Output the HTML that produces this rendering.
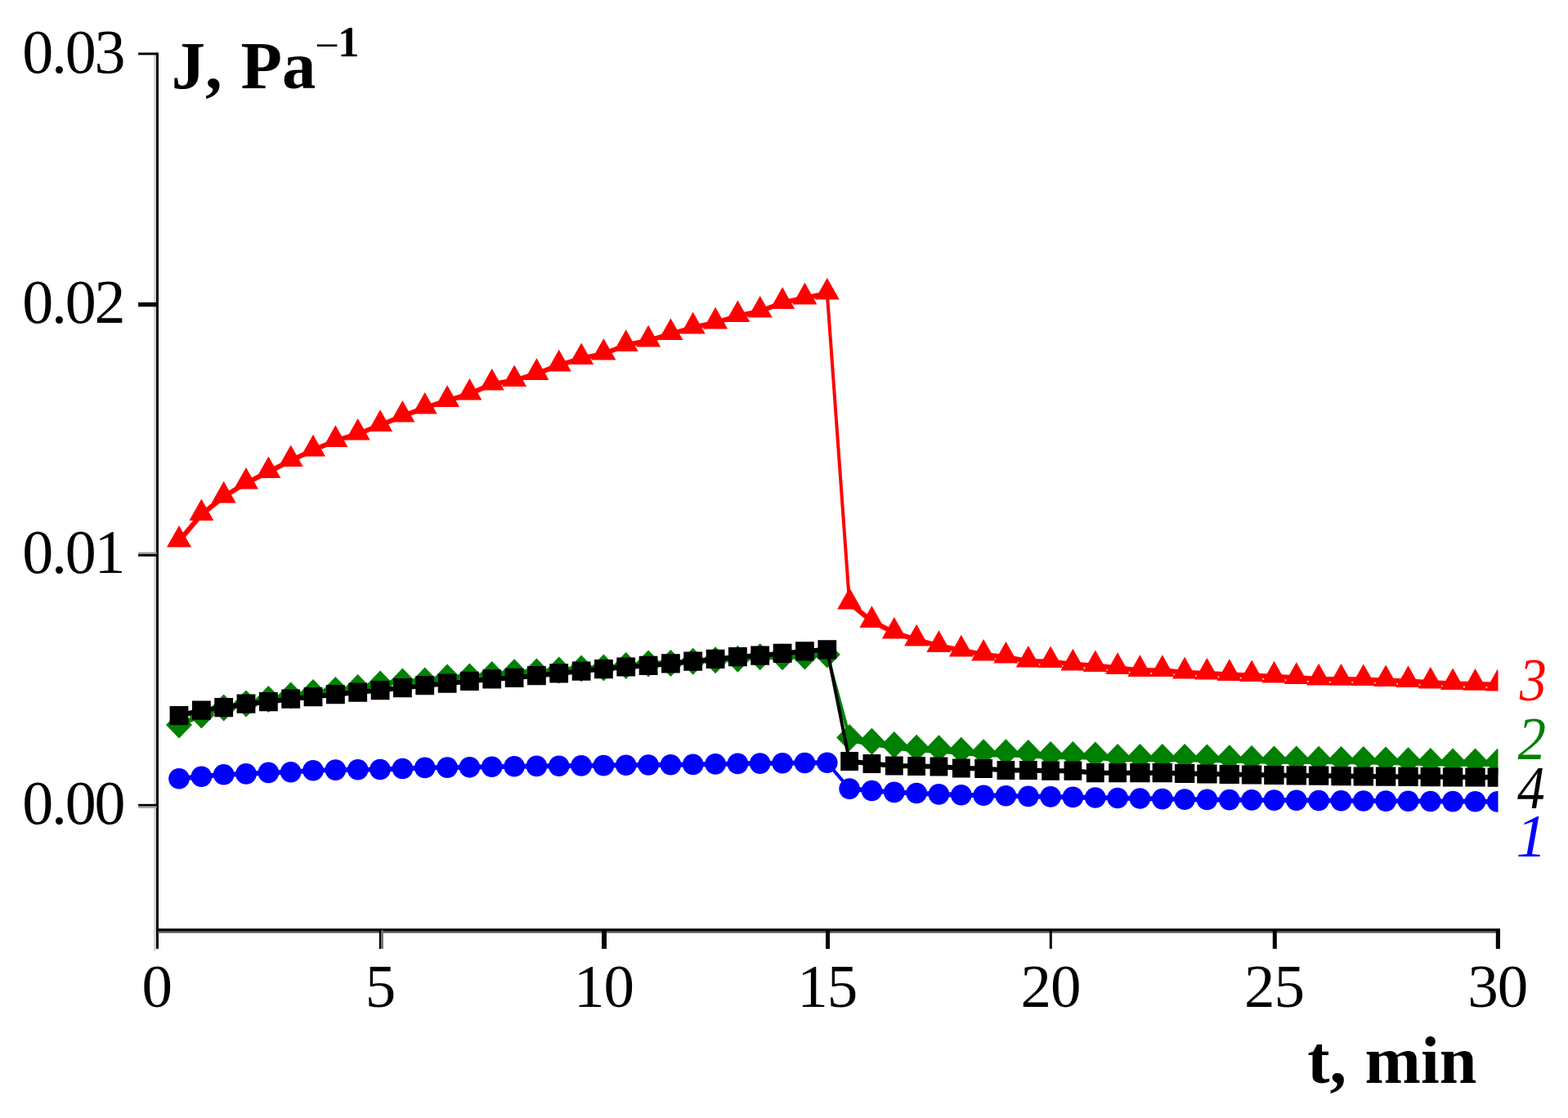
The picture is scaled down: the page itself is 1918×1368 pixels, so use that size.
<!DOCTYPE html>
<html lang="en">
<head>
<meta charset="utf-8">
<title>Creep and recovery compliance</title>
<style>
html,body{margin:0;padding:0;background:#fff;}
body{width:1918px;height:1368px;overflow:hidden;}
svg{display:block;filter:blur(0.7px);}
text{font-family:"Liberation Serif","DejaVu Serif",serif;}
.tk{font-size:75px;fill:#000;}
.tky{font-size:76px;letter-spacing:-2.3px;}
.tkx{letter-spacing:-1px;}
.ti{font-size:82.7px;font-weight:bold;fill:#000;word-spacing:2px;}
.sup{font-size:52.5px;}
.mi{font-weight:normal;}
.lb{font-size:75px;font-style:italic;}
</style>
</head>
<body>
<svg width="1918" height="1368" viewBox="0 0 1918 1368">
<defs><clipPath id="plot"><rect x="192" y="0" width="1640.5" height="1139"/></clipPath></defs>
<rect width="1918" height="1368" fill="#fff"/>
<g clip-path="url(#plot)">
<polyline points="219.0,952.8 246.4,950.2 273.7,947.8 301.0,946.9 328.4,945.4 355.7,944.8 383.0,942.8 410.4,942.1 437.7,941.8 465.1,941.5 492.4,940.5 519.7,939.4 547.1,939.1 574.4,938.8 601.7,938.2 629.1,937.7 656.4,937.4 683.7,937.2 711.1,936.9 738.4,936.6 765.7,936.3 793.1,936.0 820.4,935.7 847.7,935.4 875.1,934.9 902.4,934.4 929.7,934.1 957.1,933.8 984.4,933.5 1011.8,933.2" fill="none" stroke="#0000ff" stroke-width="6" stroke-linejoin="round"/>
<polyline points="1011.8,933.2 1039.1,965.1" fill="none" stroke="#0000ff" stroke-width="4" stroke-linejoin="round"/>
<polyline points="1039.1,965.1 1066.4,967.5 1093.8,969.4 1121.1,970.5 1148.4,971.9 1175.8,972.8 1203.1,973.3 1230.4,973.8 1257.8,974.4 1285.1,974.9 1312.4,975.4 1339.8,976.0 1367.1,976.5 1394.4,977.0 1421.8,977.6 1449.1,978.1 1476.4,978.4 1503.8,978.6 1531.1,978.9 1558.5,979.1 1585.8,979.3 1613.1,979.5 1640.5,979.8 1667.8,980.0 1695.1,980.1 1722.5,980.3 1749.8,980.5 1777.1,980.6 1804.5,980.8 1831.8,980.9" fill="none" stroke="#0000ff" stroke-width="6" stroke-linejoin="round"/>
<path d="M206.2,952.8a12.8,12.8 0 1,0 25.6,0a12.8,12.8 0 1,0 -25.6,0ZM233.6,950.2a12.8,12.8 0 1,0 25.6,0a12.8,12.8 0 1,0 -25.6,0ZM260.9,947.8a12.8,12.8 0 1,0 25.6,0a12.8,12.8 0 1,0 -25.6,0ZM288.2,946.9a12.8,12.8 0 1,0 25.6,0a12.8,12.8 0 1,0 -25.6,0ZM315.6,945.4a12.8,12.8 0 1,0 25.6,0a12.8,12.8 0 1,0 -25.6,0ZM342.9,944.8a12.8,12.8 0 1,0 25.6,0a12.8,12.8 0 1,0 -25.6,0ZM370.2,942.8a12.8,12.8 0 1,0 25.6,0a12.8,12.8 0 1,0 -25.6,0ZM397.6,942.1a12.8,12.8 0 1,0 25.6,0a12.8,12.8 0 1,0 -25.6,0ZM424.9,941.8a12.8,12.8 0 1,0 25.6,0a12.8,12.8 0 1,0 -25.6,0ZM452.2,941.5a12.8,12.8 0 1,0 25.6,0a12.8,12.8 0 1,0 -25.6,0ZM479.6,940.5a12.8,12.8 0 1,0 25.6,0a12.8,12.8 0 1,0 -25.6,0ZM506.9,939.4a12.8,12.8 0 1,0 25.6,0a12.8,12.8 0 1,0 -25.6,0ZM534.3,939.1a12.8,12.8 0 1,0 25.6,0a12.8,12.8 0 1,0 -25.6,0ZM561.6,938.8a12.8,12.8 0 1,0 25.6,0a12.8,12.8 0 1,0 -25.6,0ZM588.9,938.2a12.8,12.8 0 1,0 25.6,0a12.8,12.8 0 1,0 -25.6,0ZM616.3,937.7a12.8,12.8 0 1,0 25.6,0a12.8,12.8 0 1,0 -25.6,0ZM643.6,937.4a12.8,12.8 0 1,0 25.6,0a12.8,12.8 0 1,0 -25.6,0ZM670.9,937.2a12.8,12.8 0 1,0 25.6,0a12.8,12.8 0 1,0 -25.6,0ZM698.3,936.9a12.8,12.8 0 1,0 25.6,0a12.8,12.8 0 1,0 -25.6,0ZM725.6,936.6a12.8,12.8 0 1,0 25.6,0a12.8,12.8 0 1,0 -25.6,0ZM752.9,936.3a12.8,12.8 0 1,0 25.6,0a12.8,12.8 0 1,0 -25.6,0ZM780.3,936.0a12.8,12.8 0 1,0 25.6,0a12.8,12.8 0 1,0 -25.6,0ZM807.6,935.7a12.8,12.8 0 1,0 25.6,0a12.8,12.8 0 1,0 -25.6,0ZM834.9,935.4a12.8,12.8 0 1,0 25.6,0a12.8,12.8 0 1,0 -25.6,0ZM862.3,934.9a12.8,12.8 0 1,0 25.6,0a12.8,12.8 0 1,0 -25.6,0ZM889.6,934.4a12.8,12.8 0 1,0 25.6,0a12.8,12.8 0 1,0 -25.6,0ZM916.9,934.1a12.8,12.8 0 1,0 25.6,0a12.8,12.8 0 1,0 -25.6,0ZM944.3,933.8a12.8,12.8 0 1,0 25.6,0a12.8,12.8 0 1,0 -25.6,0ZM971.6,933.5a12.8,12.8 0 1,0 25.6,0a12.8,12.8 0 1,0 -25.6,0ZM999.0,933.2a12.8,12.8 0 1,0 25.6,0a12.8,12.8 0 1,0 -25.6,0ZM1026.3,965.1a12.8,12.8 0 1,0 25.6,0a12.8,12.8 0 1,0 -25.6,0ZM1053.6,967.5a12.8,12.8 0 1,0 25.6,0a12.8,12.8 0 1,0 -25.6,0ZM1081.0,969.4a12.8,12.8 0 1,0 25.6,0a12.8,12.8 0 1,0 -25.6,0ZM1108.3,970.5a12.8,12.8 0 1,0 25.6,0a12.8,12.8 0 1,0 -25.6,0ZM1135.6,971.9a12.8,12.8 0 1,0 25.6,0a12.8,12.8 0 1,0 -25.6,0ZM1163.0,972.8a12.8,12.8 0 1,0 25.6,0a12.8,12.8 0 1,0 -25.6,0ZM1190.3,973.3a12.8,12.8 0 1,0 25.6,0a12.8,12.8 0 1,0 -25.6,0ZM1217.6,973.8a12.8,12.8 0 1,0 25.6,0a12.8,12.8 0 1,0 -25.6,0ZM1245.0,974.4a12.8,12.8 0 1,0 25.6,0a12.8,12.8 0 1,0 -25.6,0ZM1272.3,974.9a12.8,12.8 0 1,0 25.6,0a12.8,12.8 0 1,0 -25.6,0ZM1299.6,975.4a12.8,12.8 0 1,0 25.6,0a12.8,12.8 0 1,0 -25.6,0ZM1327.0,976.0a12.8,12.8 0 1,0 25.6,0a12.8,12.8 0 1,0 -25.6,0ZM1354.3,976.5a12.8,12.8 0 1,0 25.6,0a12.8,12.8 0 1,0 -25.6,0ZM1381.6,977.0a12.8,12.8 0 1,0 25.6,0a12.8,12.8 0 1,0 -25.6,0ZM1409.0,977.6a12.8,12.8 0 1,0 25.6,0a12.8,12.8 0 1,0 -25.6,0ZM1436.3,978.1a12.8,12.8 0 1,0 25.6,0a12.8,12.8 0 1,0 -25.6,0ZM1463.6,978.4a12.8,12.8 0 1,0 25.6,0a12.8,12.8 0 1,0 -25.6,0ZM1491.0,978.6a12.8,12.8 0 1,0 25.6,0a12.8,12.8 0 1,0 -25.6,0ZM1518.3,978.9a12.8,12.8 0 1,0 25.6,0a12.8,12.8 0 1,0 -25.6,0ZM1545.7,979.1a12.8,12.8 0 1,0 25.6,0a12.8,12.8 0 1,0 -25.6,0ZM1573.0,979.3a12.8,12.8 0 1,0 25.6,0a12.8,12.8 0 1,0 -25.6,0ZM1600.3,979.5a12.8,12.8 0 1,0 25.6,0a12.8,12.8 0 1,0 -25.6,0ZM1627.7,979.8a12.8,12.8 0 1,0 25.6,0a12.8,12.8 0 1,0 -25.6,0ZM1655.0,980.0a12.8,12.8 0 1,0 25.6,0a12.8,12.8 0 1,0 -25.6,0ZM1682.3,980.1a12.8,12.8 0 1,0 25.6,0a12.8,12.8 0 1,0 -25.6,0ZM1709.7,980.3a12.8,12.8 0 1,0 25.6,0a12.8,12.8 0 1,0 -25.6,0ZM1737.0,980.5a12.8,12.8 0 1,0 25.6,0a12.8,12.8 0 1,0 -25.6,0ZM1764.3,980.6a12.8,12.8 0 1,0 25.6,0a12.8,12.8 0 1,0 -25.6,0ZM1791.7,980.8a12.8,12.8 0 1,0 25.6,0a12.8,12.8 0 1,0 -25.6,0ZM1819.0,980.9a12.8,12.8 0 1,0 25.6,0a12.8,12.8 0 1,0 -25.6,0Z" fill="#0000ff"/>
<polyline points="219.0,887.0 246.4,875.0 273.7,866.0 301.0,861.0 328.4,855.5 355.7,851.0 383.0,847.5 410.4,844.5 437.7,841.5 465.1,837.0 492.4,834.0 519.7,833.0 547.1,829.0 574.4,828.0 601.7,825.5 629.1,822.8 656.4,822.0 683.7,820.0 711.1,818.0 738.4,817.0 765.7,814.4 793.1,811.9 820.4,811.5 847.7,809.2 875.1,807.8 902.4,806.2 929.7,803.8 957.1,803.8 984.4,803.0 1011.8,801.0" fill="none" stroke="#008000" stroke-width="6" stroke-linejoin="round"/>
<polyline points="1011.8,801.0 1039.1,902.5" fill="none" stroke="#008000" stroke-width="4" stroke-linejoin="round"/>
<polyline points="1039.1,904.3 1066.4,909.0 1093.8,913.3 1121.1,917.0 1148.4,917.5 1175.8,920.0 1203.1,922.5 1230.4,922.5 1257.8,923.3 1285.1,925.3 1312.4,925.3 1339.8,925.8 1367.1,928.3 1394.4,928.3 1421.8,928.3 1449.1,928.3 1476.4,928.9 1503.8,929.5 1531.1,930.2 1558.5,930.8 1585.8,930.9 1613.1,931.0 1640.5,931.2 1667.8,931.3 1695.1,931.9 1722.5,932.5 1749.8,933.2 1777.1,933.8 1804.5,933.9 1831.8,934.0" fill="none" stroke="#008000" stroke-width="8" stroke-linejoin="round"/>
<path d="M203.0,887.0L219.0,870.5L235.0,887.0L219.0,903.5ZM230.4,875.0L246.4,858.5L262.4,875.0L246.4,891.5ZM257.7,866.0L273.7,849.5L289.7,866.0L273.7,882.5ZM285.0,861.0L301.0,844.5L317.0,861.0L301.0,877.5ZM312.4,855.5L328.4,839.0L344.4,855.5L328.4,872.0ZM339.7,851.0L355.7,834.5L371.7,851.0L355.7,867.5ZM367.0,847.5L383.0,831.0L399.0,847.5L383.0,864.0ZM394.4,844.5L410.4,828.0L426.4,844.5L410.4,861.0ZM421.7,841.5L437.7,825.0L453.7,841.5L437.7,858.0ZM449.1,837.0L465.1,820.5L481.1,837.0L465.1,853.5ZM476.4,834.0L492.4,817.5L508.4,834.0L492.4,850.5ZM503.7,833.0L519.7,816.5L535.7,833.0L519.7,849.5ZM531.1,829.0L547.1,812.5L563.1,829.0L547.1,845.5ZM558.4,828.0L574.4,811.5L590.4,828.0L574.4,844.5ZM585.7,825.5L601.7,809.0L617.7,825.5L601.7,842.0ZM613.1,822.8L629.1,806.2L645.1,822.8L629.1,839.2ZM640.4,822.0L656.4,805.5L672.4,822.0L656.4,838.5ZM667.7,820.0L683.7,803.5L699.7,820.0L683.7,836.5ZM695.1,818.0L711.1,801.5L727.1,818.0L711.1,834.5ZM722.4,817.0L738.4,800.5L754.4,817.0L738.4,833.5ZM749.7,814.4L765.7,797.9L781.7,814.4L765.7,830.9ZM777.1,811.9L793.1,795.4L809.1,811.9L793.1,828.4ZM804.4,811.5L820.4,795.0L836.4,811.5L820.4,828.0ZM831.7,809.2L847.7,792.8L863.7,809.2L847.7,825.8ZM859.1,807.8L875.1,791.2L891.1,807.8L875.1,824.2ZM886.4,806.2L902.4,789.8L918.4,806.2L902.4,822.8ZM913.7,803.8L929.7,787.2L945.7,803.8L929.7,820.2ZM941.1,803.8L957.1,787.2L973.1,803.8L957.1,820.2ZM968.4,803.0L984.4,786.5L1000.4,803.0L984.4,819.5ZM995.8,801.0L1011.8,784.5L1027.8,801.0L1011.8,817.5ZM1023.1,902.5L1039.1,886.0L1055.1,902.5L1039.1,919.0ZM1050.4,907.2L1066.4,890.8L1082.4,907.2L1066.4,923.8ZM1077.8,911.5L1093.8,895.0L1109.8,911.5L1093.8,928.0ZM1105.1,915.2L1121.1,898.8L1137.1,915.2L1121.1,931.8ZM1132.4,915.8L1148.4,899.2L1164.4,915.8L1148.4,932.2ZM1159.8,918.2L1175.8,901.8L1191.8,918.2L1175.8,934.8ZM1187.1,920.8L1203.1,904.2L1219.1,920.8L1203.1,937.2ZM1214.4,920.8L1230.4,904.2L1246.4,920.8L1230.4,937.2ZM1241.8,921.5L1257.8,905.0L1273.8,921.5L1257.8,938.0ZM1269.1,923.5L1285.1,907.0L1301.1,923.5L1285.1,940.0ZM1296.4,923.5L1312.4,907.0L1328.4,923.5L1312.4,940.0ZM1323.8,924.0L1339.8,907.5L1355.8,924.0L1339.8,940.5ZM1351.1,926.5L1367.1,910.0L1383.1,926.5L1367.1,943.0ZM1378.4,926.5L1394.4,910.0L1410.4,926.5L1394.4,943.0ZM1405.8,926.5L1421.8,910.0L1437.8,926.5L1421.8,943.0ZM1433.1,926.5L1449.1,910.0L1465.1,926.5L1449.1,943.0ZM1460.4,927.1L1476.4,910.6L1492.4,927.1L1476.4,943.6ZM1487.8,927.8L1503.8,911.2L1519.8,927.8L1503.8,944.2ZM1515.1,928.4L1531.1,911.9L1547.1,928.4L1531.1,944.9ZM1542.5,929.0L1558.5,912.5L1574.5,929.0L1558.5,945.5ZM1569.8,929.1L1585.8,912.6L1601.8,929.1L1585.8,945.6ZM1597.1,929.2L1613.1,912.8L1629.1,929.2L1613.1,945.8ZM1624.5,929.4L1640.5,912.9L1656.5,929.4L1640.5,945.9ZM1651.8,929.5L1667.8,913.0L1683.8,929.5L1667.8,946.0ZM1679.1,930.1L1695.1,913.6L1711.1,930.1L1695.1,946.6ZM1706.5,930.8L1722.5,914.2L1738.5,930.8L1722.5,947.2ZM1733.8,931.4L1749.8,914.9L1765.8,931.4L1749.8,947.9ZM1761.1,932.0L1777.1,915.5L1793.1,932.0L1777.1,948.5ZM1788.5,932.1L1804.5,915.6L1820.5,932.1L1804.5,948.6ZM1815.8,932.2L1831.8,915.8L1847.8,932.2L1831.8,948.8Z" fill="#008000"/>
<polyline points="219.0,662.0 246.4,629.5 273.7,607.8 301.0,591.0 328.4,577.5 355.7,563.5 383.0,550.8 410.4,539.2 437.7,531.0 465.1,520.2 492.4,509.0 519.7,499.0 547.1,490.2 574.4,482.0 601.7,470.0 629.1,465.5 656.4,457.2 683.7,446.8 711.1,438.5 738.4,433.0 765.7,422.2 793.1,416.8 820.4,408.5 847.7,400.8 875.1,394.8 902.4,386.5 929.7,381.0 957.1,370.2 984.4,364.8 1011.8,359.0" fill="none" stroke="#ff0000" stroke-width="6" stroke-linejoin="round"/>
<polyline points="1011.8,359.0 1039.1,738.0" fill="none" stroke="#ff0000" stroke-width="4" stroke-linejoin="round"/>
<polyline points="1039.1,738.0 1066.4,760.2 1093.8,774.0 1121.1,782.8 1148.4,790.2 1175.8,795.8 1203.1,801.0 1230.4,804.0 1257.8,809.0 1285.1,809.5 1312.4,812.8 1339.8,814.5 1367.1,817.2 1394.4,820.2 1421.8,820.2 1449.1,822.8 1476.4,824.0 1503.8,825.2 1531.1,826.5 1558.5,827.8 1585.8,829.2 1613.1,830.8 1640.5,831.1 1667.8,831.5 1695.1,832.5 1722.5,833.5 1749.8,835.0 1777.1,836.5 1804.5,837.1 1831.8,837.8" fill="none" stroke="#ff0000" stroke-width="6" stroke-linejoin="round"/>
<path d="M204.0,669.6L219.0,643.0L234.0,669.6ZM231.4,637.1L246.4,610.5L261.4,637.1ZM258.7,615.4L273.7,588.8L288.7,615.4ZM286.0,598.6L301.0,572.0L316.0,598.6ZM313.4,585.1L328.4,558.5L343.4,585.1ZM340.7,571.1L355.7,544.5L370.7,571.1ZM368.0,558.4L383.0,531.8L398.0,558.4ZM395.4,546.9L410.4,520.2L425.4,546.9ZM422.7,538.6L437.7,512.0L452.7,538.6ZM450.1,527.9L465.1,501.2L480.1,527.9ZM477.4,516.6L492.4,490.0L507.4,516.6ZM504.7,506.6L519.7,480.0L534.7,506.6ZM532.1,497.9L547.1,471.2L562.1,497.9ZM559.4,489.6L574.4,463.0L589.4,489.6ZM586.7,477.6L601.7,451.0L616.7,477.6ZM614.1,473.1L629.1,446.5L644.1,473.1ZM641.4,464.9L656.4,438.2L671.4,464.9ZM668.7,454.4L683.7,427.8L698.7,454.4ZM696.1,446.1L711.1,419.5L726.1,446.1ZM723.4,440.6L738.4,414.0L753.4,440.6ZM750.7,429.9L765.7,403.2L780.7,429.9ZM778.1,424.4L793.1,397.8L808.1,424.4ZM805.4,416.1L820.4,389.5L835.4,416.1ZM832.7,408.4L847.7,381.8L862.7,408.4ZM860.1,402.4L875.1,375.8L890.1,402.4ZM887.4,394.1L902.4,367.5L917.4,394.1ZM914.7,388.6L929.7,362.0L944.7,388.6ZM942.1,377.9L957.1,351.2L972.1,377.9ZM969.4,372.4L984.4,345.8L999.4,372.4ZM996.8,366.6L1011.8,340.0L1026.8,366.6ZM1024.1,745.6L1039.1,719.0L1054.1,745.6ZM1051.4,767.9L1066.4,741.2L1081.4,767.9ZM1078.8,781.6L1093.8,755.0L1108.8,781.6ZM1106.1,790.4L1121.1,763.8L1136.1,790.4ZM1133.4,797.9L1148.4,771.2L1163.4,797.9ZM1160.8,803.4L1175.8,776.8L1190.8,803.4ZM1188.1,808.6L1203.1,782.0L1218.1,808.6ZM1215.4,811.6L1230.4,785.0L1245.4,811.6ZM1242.8,816.6L1257.8,790.0L1272.8,816.6ZM1270.1,817.1L1285.1,790.5L1300.1,817.1ZM1297.4,820.4L1312.4,793.8L1327.4,820.4ZM1324.8,822.1L1339.8,795.5L1354.8,822.1ZM1352.1,824.9L1367.1,798.2L1382.1,824.9ZM1379.4,827.9L1394.4,801.2L1409.4,827.9ZM1406.8,827.9L1421.8,801.2L1436.8,827.9ZM1434.1,830.4L1449.1,803.8L1464.1,830.4ZM1461.4,831.6L1476.4,805.0L1491.4,831.6ZM1488.8,832.9L1503.8,806.2L1518.8,832.9ZM1516.1,834.1L1531.1,807.5L1546.1,834.1ZM1543.5,835.4L1558.5,808.8L1573.5,835.4ZM1570.8,836.9L1585.8,810.2L1600.8,836.9ZM1598.1,838.4L1613.1,811.8L1628.1,838.4ZM1625.5,838.7L1640.5,812.1L1655.5,838.7ZM1652.8,839.1L1667.8,812.5L1682.8,839.1ZM1680.1,840.1L1695.1,813.5L1710.1,840.1ZM1707.5,841.1L1722.5,814.5L1737.5,841.1ZM1734.8,842.6L1749.8,816.0L1764.8,842.6ZM1762.1,844.1L1777.1,817.5L1792.1,844.1ZM1789.5,844.7L1804.5,818.1L1819.5,844.7ZM1816.8,845.4L1831.8,818.8L1846.8,845.4Z" fill="#ff0000"/>
<polyline points="219.0,875.6 246.4,869.1 273.7,865.8 301.0,861.2 328.4,858.8 355.7,855.2 383.0,852.6 410.4,849.8 437.7,847.1 465.1,844.6 492.4,841.6 519.7,838.8 547.1,836.2 574.4,833.4 601.7,830.9 629.1,829.3 656.4,826.7 683.7,823.9 711.1,821.1 738.4,818.6 765.7,816.0 793.1,814.4 820.4,811.9 847.7,809.1 875.1,806.4 902.4,803.8 929.7,802.1 957.1,799.4 984.4,796.9 1011.8,794.8" fill="none" stroke="#000000" stroke-width="6" stroke-linejoin="round"/>
<polyline points="1011.8,794.8 1039.1,931.5" fill="none" stroke="#000000" stroke-width="4" stroke-linejoin="round"/>
<polyline points="1039.1,931.5 1066.4,934.5 1093.8,937.0 1121.1,937.5 1148.4,938.0 1175.8,940.0 1203.1,940.5 1230.4,942.5 1257.8,942.5 1285.1,943.2 1312.4,943.2 1339.8,945.8 1367.1,945.8 1394.4,945.8 1421.8,945.8 1449.1,946.5 1476.4,947.0 1503.8,947.5 1531.1,948.0 1558.5,948.5 1585.8,948.9 1613.1,949.2 1640.5,949.6 1667.8,950.0 1695.1,950.2 1722.5,950.4 1749.8,950.6 1777.1,950.8 1804.5,951.0 1831.8,951.2" fill="none" stroke="#000000" stroke-width="6" stroke-linejoin="round"/>
<path d="M207.6,864.0h22.8v23.2h-22.8ZM235.0,857.5h22.8v23.2h-22.8ZM262.3,854.1h22.8v23.2h-22.8ZM289.6,849.6h22.8v23.2h-22.8ZM317.0,847.1h22.8v23.2h-22.8ZM344.3,843.6h22.8v23.2h-22.8ZM371.6,841.0h22.8v23.2h-22.8ZM399.0,838.1h22.8v23.2h-22.8ZM426.3,835.5h22.8v23.2h-22.8ZM453.7,833.0h22.8v23.2h-22.8ZM481.0,830.0h22.8v23.2h-22.8ZM508.3,827.1h22.8v23.2h-22.8ZM535.7,824.6h22.8v23.2h-22.8ZM563.0,821.8h22.8v23.2h-22.8ZM590.3,819.3h22.8v23.2h-22.8ZM617.7,817.7h22.8v23.2h-22.8ZM645.0,815.1h22.8v23.2h-22.8ZM672.3,812.3h22.8v23.2h-22.8ZM699.7,809.5h22.8v23.2h-22.8ZM727.0,807.0h22.8v23.2h-22.8ZM754.3,804.4h22.8v23.2h-22.8ZM781.7,802.8h22.8v23.2h-22.8ZM809.0,800.3h22.8v23.2h-22.8ZM836.3,797.5h22.8v23.2h-22.8ZM863.7,794.8h22.8v23.2h-22.8ZM891.0,792.1h22.8v23.2h-22.8ZM918.3,790.5h22.8v23.2h-22.8ZM945.7,787.8h22.8v23.2h-22.8ZM973.0,785.3h22.8v23.2h-22.8ZM1000.4,783.2h22.8v23.2h-22.8ZM1028.2,919.9h21.8v23.2h-21.8ZM1055.5,922.9h21.8v23.2h-21.8ZM1082.9,925.4h21.8v23.2h-21.8ZM1110.2,925.9h21.8v23.2h-21.8ZM1137.5,926.4h21.8v23.2h-21.8ZM1164.9,928.4h21.8v23.2h-21.8ZM1192.2,928.9h21.8v23.2h-21.8ZM1219.5,930.9h21.8v23.2h-21.8ZM1246.9,930.9h21.8v23.2h-21.8ZM1274.2,931.6h21.8v23.2h-21.8ZM1301.5,931.6h21.8v23.2h-21.8ZM1328.9,934.1h21.8v23.2h-21.8ZM1356.2,934.1h21.8v23.2h-21.8ZM1382.2,934.1h24.4v23.2h-24.4ZM1409.6,934.1h24.4v23.2h-24.4ZM1436.9,934.9h24.4v23.2h-24.4ZM1464.2,935.4h24.4v23.2h-24.4ZM1491.6,935.9h24.4v23.2h-24.4ZM1518.9,936.4h24.4v23.2h-24.4ZM1546.2,936.9h24.4v23.2h-24.4ZM1573.6,937.3h24.4v23.2h-24.4ZM1600.9,937.6h24.4v23.2h-24.4ZM1628.3,938.0h24.4v23.2h-24.4ZM1655.6,938.4h24.4v23.2h-24.4ZM1682.9,938.6h24.4v23.2h-24.4ZM1710.3,938.8h24.4v23.2h-24.4ZM1737.6,939.0h24.4v23.2h-24.4ZM1764.9,939.2h24.4v23.2h-24.4ZM1792.3,939.4h24.4v23.2h-24.4ZM1819.6,939.6h24.4v23.2h-24.4Z" fill="#000000"/>
</g>
<rect x="188.2" y="64.4" width="3" height="1098.8" fill="#d2d2d2"/>
<rect x="191" y="64.4" width="3" height="1096.6" fill="#000"/>
<rect x="193" y="1139" width="1642" height="2.7" fill="#5a5a5a"/>
<rect x="193" y="1136.2" width="1642" height="3" fill="#000"/>
<rect x="169.1" y="64.4" width="22.5" height="2.9" fill="#000"/>
<rect x="169.1" y="370.0" width="22.5" height="5.3" fill="#000"/>
<rect x="169.1" y="675.6" width="22.5" height="2.6" fill="#999"/>
<rect x="169.1" y="678.0" width="22.5" height="2.9" fill="#000"/>
<rect x="169.1" y="983.8" width="22.5" height="2.9" fill="#000"/>
<rect x="169.1" y="986.6" width="22.5" height="2.4" fill="#aaa"/>
<rect x="463.8" y="1138" width="2.7" height="23" fill="#000"/>
<rect x="466.4" y="1138" width="2.5" height="23" fill="#707070"/>
<rect x="736" y="1138" width="6" height="23" fill="#000"/>
<rect x="1010" y="1138" width="5" height="23" fill="#000"/>
<rect x="1283.8" y="1138" width="3" height="23" fill="#000"/>
<rect x="1556.8" y="1138" width="5" height="23" fill="#000"/>
<rect x="1829.8" y="1138" width="5.2" height="23" fill="#000"/>
<text x="151.1" y="88.7" text-anchor="end" class="tk tky">0.03</text>
<text x="151.1" y="394.8" text-anchor="end" class="tk tky">0.02</text>
<text x="151.1" y="701.2" text-anchor="end" class="tk tky">0.01</text>
<text x="151.1" y="1007.6" text-anchor="end" class="tk tky">0.00</text>
<text x="191.7" y="1232" text-anchor="middle" class="tk tkx">0</text>
<text x="465.1" y="1232" text-anchor="middle" class="tk tkx">5</text>
<text x="738.4" y="1232" text-anchor="middle" class="tk tkx">10</text>
<text x="1011.8" y="1232" text-anchor="middle" class="tk tkx">15</text>
<text x="1285.1" y="1232" text-anchor="middle" class="tk tkx">20</text>
<text x="1558.5" y="1232" text-anchor="middle" class="tk tkx">25</text>
<text x="1831.8" y="1232" text-anchor="middle" class="tk tkx">30</text>
<text x="209.7" y="107.6" class="ti">J, Pa</text>
<text x="385.2" y="73.3" class="ti sup mi">−</text>
<text x="413.3" y="68.8" class="ti sup">1</text>
<text x="1599.3" y="1324.6" class="ti" style="font-size:82px">t, min</text>
<text transform="translate(1858.8,857) scale(0.88,1)" class="lb" fill="#ff0000">3</text>
<text transform="translate(1856.5,928.8) scale(0.92,1)" class="lb" fill="#008000">2</text>
<text transform="translate(1856,988.8) scale(0.9,1)" class="lb" fill="#000000">4</text>
<text transform="translate(1854.5,1048) scale(1.0,1)" class="lb" fill="#0000ff">1</text>
</svg>
</body>
</html>
